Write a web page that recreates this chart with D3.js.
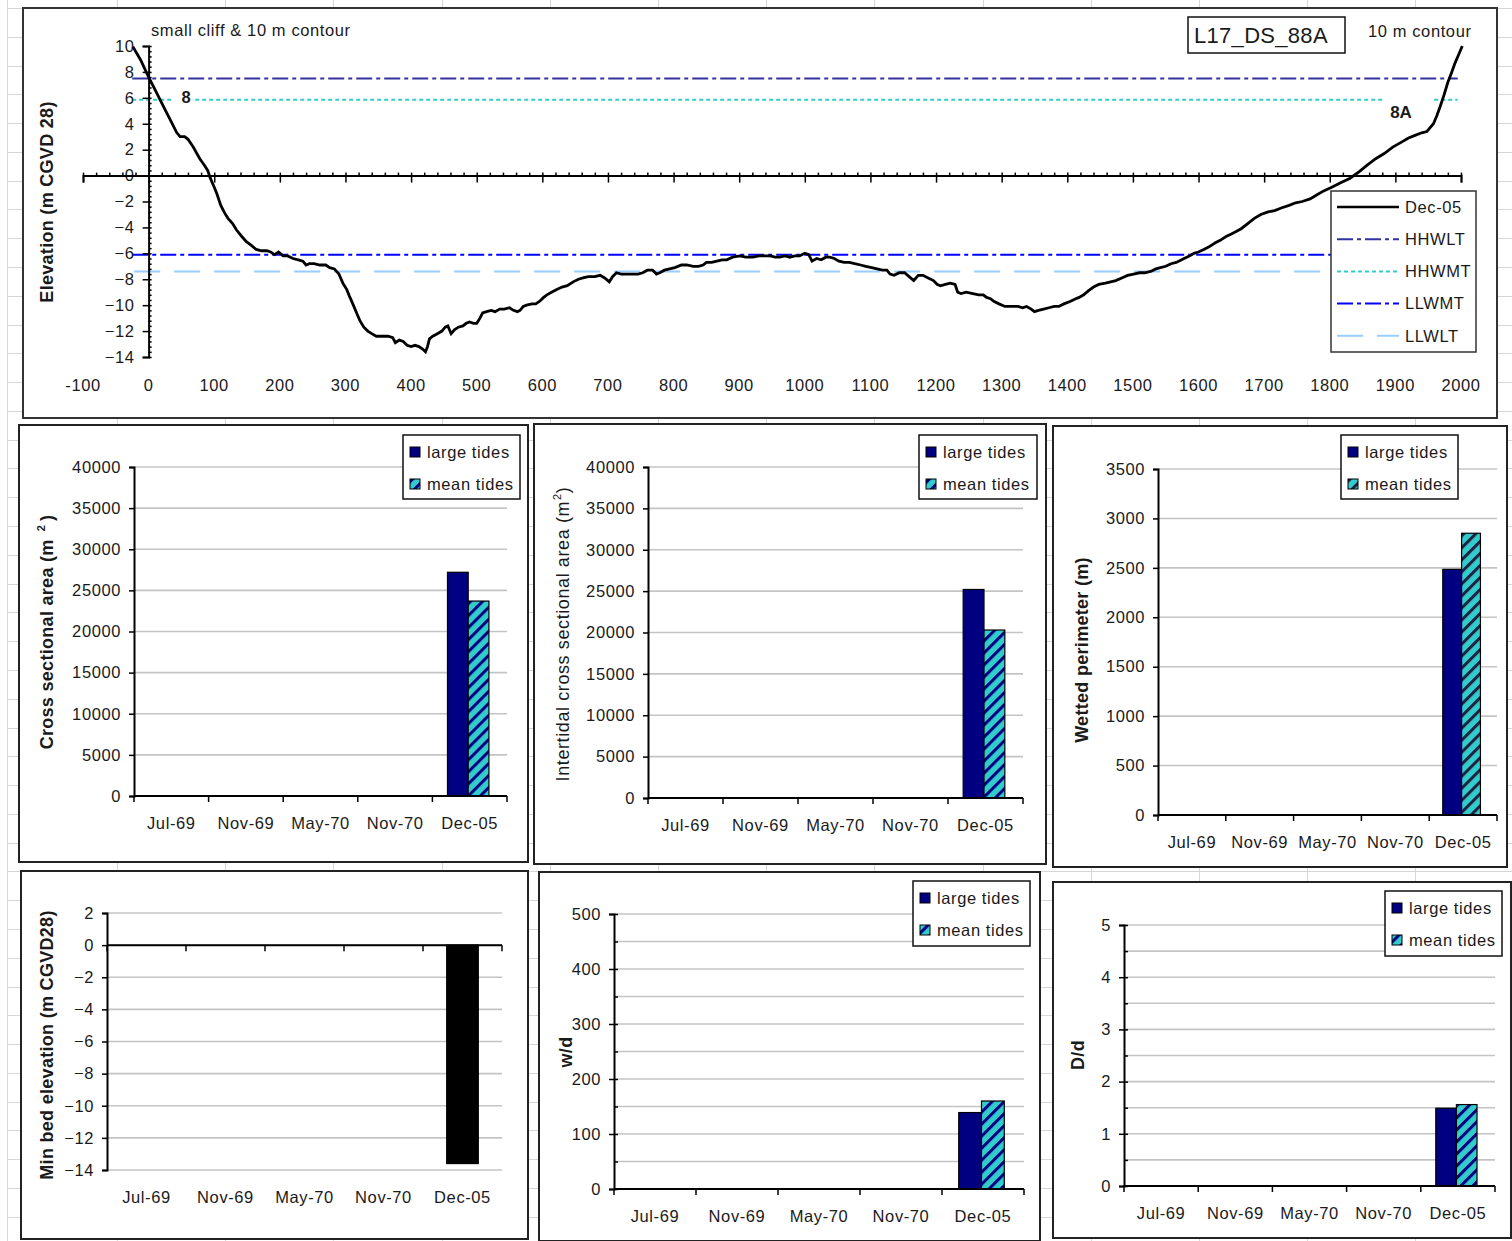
<!DOCTYPE html>
<html><head><meta charset="utf-8">
<script src="https://cdn.jsdelivr.net/npm/d3@7"></script>
<style>
body{margin:0;background:#fff;}
svg text{font-family:"Liberation Sans",Arial,sans-serif;}
</style></head><body>
<svg id="c" width="1512" height="1241"></svg>
<script>
// ---------------- DATA ----------------
const profileDist = [-24,-12,0,8,17,26,35,43,48,55,60,68,78,85,90,94,100,104,110,116,121,128,134,142,149,157,164,172,180,186,192,198,205,212,220,228,235,240,245,252,261,270,276,283,290,296,302,306,312,317,322,328,334,340,347,355,365,372,376,382,388,394,400,406,412,418,422,425,428,433,440,447,452,456,461,466,472,479,484,489,495,500,505,509,515,522,528,535,542,550,556,562,566,571,576,584,590,596,602,607,614,622,630,638,647,655,662,670,680,688,695,702,707,713,720,730,738,746,753,760,768,774,779,786,794,802,812,820,830,838,845,850,858,866,874,881,890,901,910,921,930,940,947,955,962,970,977,985,992,1000,1006,1011,1018,1025,1032,1038,1045,1052,1060,1068,1076,1085,1093,1102,1110,1118,1125,1130,1136,1144,1152,1159,1166,1173,1180,1188,1196,1202,1207,1214,1222,1229,1233,1238,1246,1256,1265,1272,1277,1283,1288,1296,1305,1315,1325,1332,1338,1345,1350,1356,1364,1372,1380,1387,1395,1405,1413,1418,1425,1432,1440,1448,1458,1466,1474,1483,1492,1501,1510,1518,1527,1535,1542,1550,1558,1566,1578,1586,1593,1600,1608,1616,1625,1633,1642,1650,1658,1665,1675,1685,1695,1706,1716,1726,1738,1748,1758,1770,1780,1790,1803,1815,1831,1845,1857,1870,1883,1896,1910,1920,1930,1940,1948,1953,1958,1963,1968,1974,1980,1986,1991,1997,2002];
const profileElev = [9.95,8.9,7.6,6.8,5.9,5.0,4.1,3.3,3.0,3.0,2.8,2.2,1.3,0.8,0.4,-0.2,-0.9,-1.4,-2.3,-2.9,-3.3,-3.7,-4.2,-4.7,-5.1,-5.4,-5.7,-5.8,-5.8,-5.9,-6.1,-5.9,-6.2,-6.2,-6.4,-6.5,-6.6,-6.9,-6.8,-6.8,-6.9,-6.9,-7.1,-7.2,-7.6,-8.3,-8.8,-9.3,-10.0,-10.6,-11.2,-11.7,-12.0,-12.2,-12.4,-12.4,-12.4,-12.5,-12.9,-12.7,-12.8,-13.1,-13.2,-13.1,-13.2,-13.4,-13.6,-13.2,-12.6,-12.4,-12.2,-12.0,-11.7,-11.6,-12.2,-11.9,-11.7,-11.6,-11.4,-11.3,-11.4,-11.4,-11.0,-10.6,-10.5,-10.4,-10.5,-10.3,-10.3,-10.2,-10.4,-10.5,-10.4,-10.1,-10.0,-9.9,-9.9,-9.7,-9.4,-9.2,-9.0,-8.8,-8.6,-8.5,-8.2,-8.0,-7.9,-7.8,-7.8,-7.7,-7.9,-8.2,-7.8,-7.5,-7.6,-7.6,-7.6,-7.6,-7.5,-7.3,-7.3,-7.6,-7.5,-7.3,-7.2,-7.1,-6.9,-6.9,-7.0,-7.0,-6.9,-6.7,-6.7,-6.6,-6.5,-6.5,-6.3,-6.2,-6.3,-6.3,-6.2,-6.2,-6.2,-6.3,-6.3,-6.2,-6.3,-6.2,-6.2,-6.0,-6.1,-6.6,-6.4,-6.5,-6.3,-6.3,-6.4,-6.6,-6.7,-6.7,-6.8,-6.9,-7.0,-7.1,-7.2,-7.3,-7.3,-7.6,-7.7,-7.5,-7.5,-7.8,-8.1,-7.7,-7.7,-7.9,-8.1,-8.4,-8.5,-8.4,-8.3,-8.4,-9.0,-9.1,-9.0,-9.1,-9.2,-9.2,-9.4,-9.5,-9.7,-9.9,-10.1,-10.1,-10.1,-10.2,-10.1,-10.3,-10.5,-10.4,-10.3,-10.2,-10.1,-10.1,-9.9,-9.7,-9.5,-9.4,-9.2,-8.9,-8.6,-8.4,-8.3,-8.2,-8.1,-7.9,-7.7,-7.6,-7.5,-7.5,-7.4,-7.2,-7.1,-7.0,-6.8,-6.7,-6.4,-6.2,-6.0,-5.9,-5.7,-5.5,-5.2,-5.0,-4.7,-4.5,-4.3,-4.1,-3.7,-3.3,-3.0,-2.8,-2.7,-2.5,-2.3,-2.1,-2.0,-1.8,-1.5,-1.2,-0.9,-0.6,-0.2,0.3,0.8,1.3,1.7,2.2,2.6,2.9,3.1,3.3,3.4,3.7,4.0,4.6,5.3,6.2,7.2,8.0,8.7,9.4,10.0];
const tideNames = ["HHWLT","HHWMT","LLWMT","LLWLT"];
const tideLevels = [7.5, 5.85, -6.1, -7.4];
const tideFrom = [-25, -25, -25, -22];
const tideTo = [1995, 1995, 1995, 1995];
const profileXTicks = [-100,0,100,200,300,400,500,600,700,800,900,1000,1100,1200,1300,1400,1500,1600,1700,1800,1900,2000];
const profileYTicks = [-14,-12,-10,-8,-6,-4,-2,0,2,4,6,8,10];

const categories = ["Jul-69","Nov-69","May-70","Nov-70","Dec-05"];
const areaLarge = [null,null,null,null,27200];
const areaMean  = [null,null,null,null,23700];
const interLarge = [null,null,null,null,25200];
const interMean  = [null,null,null,null,20300];
const perimLarge = [null,null,null,null,2485];
const perimMean  = [null,null,null,null,2850];
const minBed     = [null,null,null,null,-13.6];
const wdLarge = [null,null,null,null,139];
const wdMean  = [null,null,null,null,160];
const DdLarge = [null,null,null,null,1.49];
const DdMean  = [null,null,null,null,1.56];
const areaTicks = [0,5000,10000,15000,20000,25000,30000,35000,40000];
const perimTicks = [0,500,1000,1500,2000,2500,3000,3500];
const bedTicks = [-14,-12,-10,-8,-6,-4,-2,0,2];
const wdTicks = [0,100,200,300,400,500];
const wdGrid = [0,50,100,150,200,250,300,350,400,450,500];
const DdTicks = [0,1,2,3,4,5];
const DdGrid = [0,0.5,1,1.5,2,2.5,3,3.5,4,4.5,5];

// ---------------- DRAW ----------------
const svg = d3.select("#c");
const TXT = "#1a1a1a";
const FS = 16.5, LS = "0.6px";

// spreadsheet grid background
const bg = svg.append("g").attr("stroke","#d6d6d6").attr("stroke-width",1);
const gridCols = [7].concat(d3.range(0,14).map(k=>117+108.2*k));
const gridRows = d3.range(0,44).map(k=>8+28.78*k);
bg.selectAll(".gc").data(gridCols).join("line").attr("x1",d=>Math.round(d)+0.5).attr("x2",d=>Math.round(d)+0.5).attr("y1",0).attr("y2",1241);
bg.selectAll(".gr").data(gridRows).join("line").attr("x1",7).attr("x2",1512).attr("y1",d=>Math.round(d)+0.5).attr("y2",d=>Math.round(d)+0.5);

const defs = svg.append("defs");
function hatch(id, stripe){
  const p = defs.append("pattern").attr("id",id).attr("patternUnits","userSpaceOnUse")
    .attr("width",8.5).attr("height",8.5).attr("patternTransform","rotate(45)");
  p.append("rect").attr("width",8.5).attr("height",8.5).attr("fill","#33cccc");
  p.append("rect").attr("width",3).attr("height",8.5).attr("fill",stripe);
}
hatch("hatchN","#000080");
hatch("hatchD","#202040");

function txt(g,x,y,s,opt={}){
  return g.append("text").attr("x",x).attr("y",y).attr("dy","0.35em")
    .attr("font-size",opt.size||FS).attr("font-weight",opt.bold?"bold":"normal")
    .attr("text-anchor",opt.anchor||"start").attr("fill",opt.fill||TXT)
    .style("letter-spacing",opt.ls||LS).text(s);
}

// ===== Top panel =====
const topG = svg.append("g");
topG.append("rect").attr("x",23).attr("y",8).attr("width",1474).attr("height",410)
  .attr("fill","#fff").attr("stroke","#333").attr("stroke-width",2);
const px = d3.scaleLinear().domain([-100,2000]).range([83,1461]);
const py = d3.scaleLinear().domain([-14,10]).range([357,46]);
const tideStyle = {
  HHWLT:{c:"#3333a0",d:"16,4,4,4"},
  HHWMT:{c:"#33cccc",d:"4,3"},
  LLWMT:{c:"#0000ff",d:"16,4,4,4"},
  LLWLT:{c:"#99ccff",d:"26,14"}
};
tideNames.forEach((n,i)=>{
  topG.append("line").attr("x1",px(tideFrom[i])).attr("x2",px(tideTo[i]))
    .attr("y1",py(tideLevels[i])).attr("y2",py(tideLevels[i]))
    .attr("stroke",tideStyle[n].c).attr("stroke-width",2).attr("stroke-dasharray",tideStyle[n].d);
});
// point labels with white background
topG.append("rect").attr("x",173).attr("y",88).attr("width",19).attr("height",19).attr("fill","#fff");
txt(topG,186,97,"8",{anchor:"middle",bold:true,size:16.5,ls:"0px"});
topG.append("rect").attr("x",1383).attr("y",96).attr("width",49).attr("height",28).attr("fill","#fff");
txt(topG,1401,112,"8A",{anchor:"middle",bold:true,size:17,ls:"0px"});

// axes
const yAx = topG.append("g").attr("transform",`translate(${px(0)},0)`)
  .call(d3.axisLeft(py).tickValues(profileYTicks).tickSize(6).tickPadding(8));
const yMinor = topG.append("g").attr("transform",`translate(${px(0)},0)`)
  .call(d3.axisRight(py).tickValues(d3.range(-14,10.01,0.4)).tickSize(3).tickFormat(""));
const xAx = topG.append("g").attr("transform",`translate(0,${py(0)})`)
  .call(d3.axisBottom(px).tickValues(profileXTicks).tickSize(7).tickFormat(""));
const xMinor = topG.append("g").attr("transform",`translate(0,${py(0)})`)
  .call(d3.axisTop(px).tickValues(d3.range(-100,2000.1,20)).tickSize(3).tickFormat(""));
[yAx,yMinor,xAx,xMinor].forEach(a=>{
  a.select(".domain").attr("stroke","#000").attr("stroke-width",2);
  a.selectAll(".tick line").attr("stroke","#000").attr("stroke-width",1.5);
  a.selectAll("text").attr("font-size",FS).attr("fill",TXT).style("letter-spacing",LS)
   .attr("font-family",'"Liberation Sans",Arial,sans-serif');
});
yMinor.select(".domain").remove();
xMinor.select(".domain").remove();
profileXTicks.forEach(t=>txt(topG,px(t),385,String(t),{anchor:"middle"}));

// profile line
topG.append("path").datum(profileDist.map((d,i)=>[d,profileElev[i]]))
  .attr("d",d3.line().x(d=>px(d[0])).y(d=>py(d[1])).curve(d3.curveLinear))
  .attr("fill","none").attr("stroke","#000").attr("stroke-width",2.8).attr("stroke-linejoin","miter");

// texts
txt(topG,151,30,"small cliff & 10 m contour");
txt(topG,1368,31,"10 m contour");
topG.append("rect").attr("x",1188).attr("y",17).attr("width",157).attr("height",36)
  .attr("fill","#fff").attr("stroke","#111").attr("stroke-width",1.5);
txt(topG,1194,35,"L17_DS_88A",{size:22,ls:"0.3px"});
topG.append("text").attr("transform","translate(53,202) rotate(-90)").attr("text-anchor","middle")
  .attr("font-size",18).attr("font-weight","bold").attr("fill",TXT).style("letter-spacing","0.3px")
  .text("Elevation (m CGVD 28)");

// legend
const lg = topG.append("g");
lg.append("rect").attr("x",1331).attr("y",191).attr("width",145).attr("height",161)
  .attr("fill","#fff").attr("stroke","#333").attr("stroke-width",1.5);
const legEntries = [{n:"Dec-05",c:"#000",d:null,w:2.6}].concat(tideNames.map(n=>({n,c:tideStyle[n].c,d:tideStyle[n].d,w:2})));
legEntries.forEach((e,i)=>{
  const yy = 207 + i*32.2;
  lg.append("line").attr("x1",1337).attr("x2",1399).attr("y1",yy).attr("y2",yy)
    .attr("stroke",e.c).attr("stroke-width",e.w).attr("stroke-dasharray",e.d);
  txt(lg,1405,yy,e.n);
});

// ===== Bar panels =====
function barPanel(cfg){
  const g = svg.append("g");
  g.append("rect").attr("x",cfg.box[0]).attr("y",cfg.box[1])
    .attr("width",cfg.box[2]-cfg.box[0]).attr("height",cfg.box[3]-cfg.box[1])
    .attr("fill","#fff").attr("stroke","#222").attr("stroke-width",2);
  const x = d3.scaleBand().domain(categories).range([cfg.left,cfg.right]).padding(0);
  const y = d3.scaleLinear().domain(cfg.domain).range([cfg.bottom,cfg.top]);
  g.selectAll(".grid").data(cfg.grid).join("line")
    .attr("x1",cfg.left).attr("x2",cfg.right).attr("y1",d=>y(d)).attr("y2",d=>y(d))
    .attr("stroke","#c4c4c4").attr("stroke-width",1.6);
  const n = cfg.series.length;
  const bw = n===1 ? x.bandwidth()/2.5 : x.bandwidth()/3.6;
  const off = (x.bandwidth()-n*bw)/2 - (n===1?0:1.5);
  cfg.series.forEach((s,i)=>{
    const dat = categories.map((c,j)=>({c,v:s.values[j]})).filter(d=>d.v!=null);
    g.selectAll(null).data(dat).join("rect")
      .attr("x",d=>x(d.c)+off+i*bw).attr("width",bw)
      .attr("y",d=>Math.min(y(d.v),y(0))).attr("height",d=>Math.abs(y(d.v)-y(0)))
      .attr("fill",s.fill).attr("stroke","#000").attr("stroke-width",1.2);
  });
  // y axis
  const ya = g.append("g").attr("transform",`translate(${cfg.left},0)`)
    .call(d3.axisLeft(y).tickValues(cfg.ticks).tickSize(5).tickPadding(8).tickFormat(d3.format("d")));
  ya.select(".domain").attr("stroke","#000").attr("stroke-width",2);
  ya.selectAll(".tick line").attr("stroke","#000").attr("stroke-width",1.5);
  ya.selectAll("text").attr("font-size",FS).attr("fill",TXT).style("letter-spacing",LS)
    .attr("font-family",'"Liberation Sans",Arial,sans-serif');
  if(cfg.minor){
    const ym = g.append("g").attr("transform",`translate(${cfg.left},0)`)
      .call(d3.axisRight(y).tickValues(cfg.minor).tickSize(4).tickFormat(""));
    ym.select(".domain").remove();
    ym.selectAll(".tick line").attr("stroke","#000").attr("stroke-width",1.5);
  }
  // x axis at zero
  const y0 = y(0);
  g.append("line").attr("x1",cfg.left).attr("x2",cfg.right).attr("y1",y0).attr("y2",y0)
    .attr("stroke","#000").attr("stroke-width",2);
  const bounds = categories.map(c=>x(c)).concat([cfg.right]);
  g.selectAll(".xt").data(bounds).join("line").attr("x1",d=>d).attr("x2",d=>d)
    .attr("y1",y0).attr("y2",y0+6).attr("stroke","#000").attr("stroke-width",1.5);
  categories.forEach(c=>txt(g,x(c)+x.bandwidth()/2,cfg.labelY,c,{anchor:"middle"}));
  // title
  const t = g.append("text").attr("transform",`translate(${cfg.titleX},${cfg.titleY}) rotate(-90)`)
    .attr("text-anchor","middle").attr("font-size",18).attr("font-weight",cfg.titleBold?"bold":"normal")
    .attr("fill",TXT).style("letter-spacing",cfg.titleBold?"0.3px":"0.6px");
  t.append("tspan").text(cfg.title);
  if(cfg.sup){
    t.append("tspan").attr("font-size",11).attr("dy",-8).attr("dx",cfg.supDx||1).text("2");
    t.append("tspan").attr("dy",8).attr("dx",cfg.supDx2||0).text(")");
  }
  // legend
  if(cfg.legend){
    const [lx,ly,lw,lh] = cfg.legend;
    g.append("rect").attr("x",lx).attr("y",ly).attr("width",lw).attr("height",lh)
      .attr("fill","#fff").attr("stroke","#111").attr("stroke-width",1.5);
    cfg.series.forEach((s,i)=>{
      const yy = ly + 17 + i*32;
      g.append("rect").attr("x",lx+7).attr("y",yy-5).attr("width",10).attr("height",10)
        .attr("fill",s.fill).attr("stroke","#000").attr("stroke-width",1);
      txt(g,lx+24,yy,s.name);
    });
  }
}

barPanel({box:[19,425,528,862],left:134,right:507,top:467,bottom:796,domain:[0,40000],
  ticks:areaTicks,grid:areaTicks,labelY:823,legend:[403,435,117,64],
  title:"Cross sectional area (m",sup:true,supDx:8,supDx2:4,titleBold:true,titleX:53,titleY:632,
  series:[{name:"large tides",values:areaLarge,fill:"#000080"},{name:"mean tides",values:areaMean,fill:"url(#hatchN)"}]});
barPanel({box:[534,424,1046,864],left:648,right:1023,top:467,bottom:798,domain:[0,40000],
  ticks:areaTicks,grid:areaTicks,labelY:825,legend:[919,435,118,64],
  title:"Intertidal cross sectional area (m",sup:true,supDx:1,supDx2:0,titleBold:false,titleX:569,titleY:634,
  series:[{name:"large tides",values:interLarge,fill:"#000080"},{name:"mean tides",values:interMean,fill:"url(#hatchN)"}]});
barPanel({box:[1053,426,1507,867],left:1158,right:1497,top:469,bottom:815,domain:[0,3500],
  ticks:perimTicks,grid:perimTicks,labelY:842,legend:[1341,435,117,64],
  title:"Wetted perimeter (m)",titleBold:true,titleX:1088,titleY:650,
  series:[{name:"large tides",values:perimLarge,fill:"#000080"},{name:"mean tides",values:perimMean,fill:"url(#hatchD)"}]});
barPanel({box:[21,871,528,1239],left:107,right:502,top:913,bottom:1170,domain:[-14,2],
  ticks:bedTicks,grid:bedTicks,labelY:1197,legend:null,
  title:"Min bed elevation (m CGVD28)",titleBold:true,titleX:53,titleY:1045,
  series:[{name:"min",values:minBed,fill:"#000"}]});
barPanel({box:[539,872,1040,1241],left:614,right:1024,top:914,bottom:1189,domain:[0,500],
  ticks:wdTicks,grid:wdGrid,minor:wdGrid,labelY:1216,legend:[913,881,117,65],
  title:"w/d",titleBold:true,titleX:572,titleY:1052,
  series:[{name:"large tides",values:wdLarge,fill:"#000080"},{name:"mean tides",values:wdMean,fill:"url(#hatchN)"}]});
barPanel({box:[1053,882,1511,1238],left:1124,right:1495,top:925,bottom:1186,domain:[0,5],
  ticks:DdTicks,grid:DdGrid,minor:DdGrid,labelY:1213,legend:[1385,891,117,65],
  title:"D/d",titleBold:true,titleX:1084,titleY:1055,
  series:[{name:"large tides",values:DdLarge,fill:"#000080"},{name:"mean tides",values:DdMean,fill:"url(#hatchN)"}]});
</script>
</body></html>
